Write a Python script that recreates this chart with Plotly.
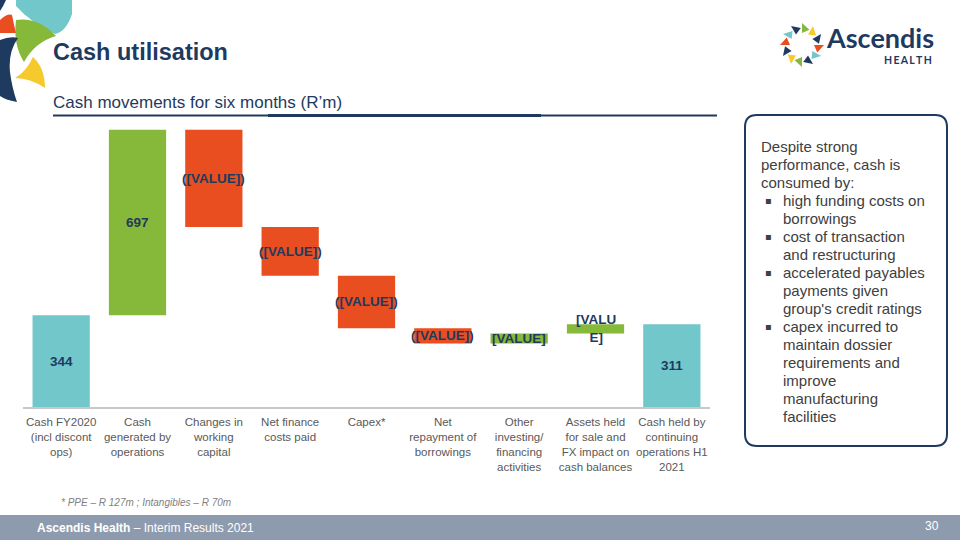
import math
import plotly.graph_objects as go

# ---------------- data ----------------
categories = [
    "Cash FY2020<br>(incl discont<br>ops)",
    "Cash<br>generated by<br>operations",
    "Changes in<br>working<br>capital",
    "Net finance<br>costs paid",
    "Capex*",
    "Net<br>repayment of<br>borrowings",
    "Other<br>investing/<br>financing<br>activities",
    "Assets held<br>for sale and<br>FX impact on<br>cash balances",
    "Cash held by<br>continuing<br>operations H1<br>2021",
]
measures = ["absolute", "relative", "relative", "relative", "relative",
            "relative", "relative", "relative", "total"]
values = [344, 697, -365, -183, -197, -58, 38, 35, 0]
bar_labels = ["344", "697", "([VALUE])", "([VALUE])", "([VALUE])",
              "([VALUE])", "[VALUE]", "[VALU<br>E]", "311"]

# ---------------- geometry ----------------
FW, FH = 960, 540
L, R, T, B = 23, 250, 114, 133
PW, PH = FW - L - R, FH - T - B

NAVY = "#1F3A5F"
TEAL = "#72C7CB"
GREEN = "#86B83A"
RED = "#E84E1F"
YELLOW = "#F6C92C"
GREY_TXT = "#595959"


def px(x):
    return (x - L) / PW


def py(y):
    return (FH - B - y) / PH


def path(points, closed=True):
    s = ""
    for cmd, pts in points:
        if cmd == "Q":
            s += "Q " + " ".join(f"{px(u):.5f},{py(w):.5f}" for u, w in pts) + " "
        else:
            for u, w in pts:
                s += f"{cmd} {px(u):.5f},{py(w):.5f} "
    if closed:
        s += "Z"
    return s


fig = go.Figure()

fig.add_trace(go.Waterfall(
    x=categories,
    y=values,
    measure=measures,
    increasing=dict(marker=dict(color=GREEN)),
    decreasing=dict(marker=dict(color=RED)),
    totals=dict(marker=dict(color=TEAL)),
    connector=dict(visible=False),
    hoverinfo="skip",
    textposition="none",
))

# bar label annotations, centred on each bar
annotations = []
running = 0
for cat, m, v, lab in zip(categories, measures, values, bar_labels):
    if m == "absolute":
        lo, hi = 0, v
        running = v
    elif m == "total":
        lo, hi = 0, running
    else:
        lo, hi = running, running + v
        running += v
    annotations.append(dict(
        x=cat, y=(lo + hi) / 2, xref="x", yref="y", text=f"<b>{lab}</b>",
        showarrow=False, font=dict(family="Liberation Sans, Arial", size=13.5, color=NAVY),
        xanchor="center", yanchor="middle",
    ))

shapes = []

# ---- title & subtitle ----
annotations.append(dict(x=px(51), y=py(52), xref="paper", yref="paper", xanchor="left",
                        yanchor="middle", showarrow=False, text="<b>Cash utilisation</b>",
                        font=dict(family="Liberation Sans, Arial", size=23.5, color=NAVY)))
annotations.append(dict(x=px(51), y=py(102), xref="paper", yref="paper", xanchor="left",
                        yanchor="middle", showarrow=False, text="Cash movements for six months (R’m)",
                        font=dict(family="Liberation Sans, Arial", size=17, color=NAVY)))
shapes.append(dict(type="line", xref="paper", yref="paper", x0=px(53), x1=px(717),
                   y0=py(115.5), y1=py(115.5), line=dict(color=NAVY, width=2)))
shapes.append(dict(type="line", xref="paper", yref="paper", x0=px(268), x1=px(541),
                   y0=py(115.5), y1=py(115.5), line=dict(color=NAVY, width=3)))

# ---- top-left logo fragments ----
logo_parts = [
    (TEAL, [("M", [(16, 0)]), ("L", [(72, 0), (72, 14)]), ("Q", [(66, 32), (55, 34)]), ("Q", [(30, 22), (16, 6)])]),
    (GREEN, [("M", [(16, 20)]), ("Q", [(38, 17), (56, 36)]), ("Q", [(35, 42), (24, 62)]), ("Q", [(13, 45), (16, 20)])]),
    (YELLOW, [("M", [(33, 57)]), ("Q", [(45, 68), (45, 88)]), ("Q", [(30, 78), (15, 78)]), ("Q", [(26, 72), (33, 57)])]),
    (RED, [("M", [(0, 20)]), ("Q", [(8, 13), (12, 15)]), ("Q", [(14, 25), (16, 33)]), ("L", [(0, 33)])]),
    (NAVY, [("M", [(0, 40)]), ("Q", [(10, 36), (18, 38)]), ("Q", [(8, 52), (10, 72)]), ("Q", [(12, 88), (17, 102)]), ("Q", [(5, 100), (0, 96)])]),
    (NAVY, [("M", [(0, 0)]), ("L", [(6, 0)]), ("Q", [(3, 7), (0, 11)])]),
]
for col, pts in logo_parts:
    shapes.append(dict(type="path", xref="paper", yref="paper", path=path(pts),
                       fillcolor=col, line=dict(width=0)))

# ---- top-right logo ----
cx, cy = 802, 45
ring_cols = [GREEN, YELLOW, NAVY, RED, TEAL, NAVY, GREEN, YELLOW, NAVY, RED, TEAL, NAVY]
for i, col in enumerate(ring_cols):
    ang = math.radians(-90 + i * 30)
    ang2 = ang + math.radians(26)
    p1 = (cx + 12 * math.cos(ang), cy + 12 * math.sin(ang))
    p2 = (cx + 22 * math.cos(ang), cy + 22 * math.sin(ang))
    p3 = (cx + 17 * math.cos(ang2), cy + 17 * math.sin(ang2))
    shapes.append(dict(type="path", xref="paper", yref="paper",
                       path=path([("M", [p1]), ("L", [p2, p3])]),
                       fillcolor=col, line=dict(width=0)))
annotations.append(dict(x=px(824), y=py(38), xref="paper", yref="paper", xanchor="left",
                        yanchor="middle", showarrow=False, text="<b>Ascendis</b>",
                        font=dict(family="Lato, Liberation Sans", size=27, color=NAVY)))
annotations.append(dict(x=px(934), y=py(60), xref="paper", yref="paper", xanchor="right",
                        yanchor="middle", showarrow=False,
                        text="<b>H\u2009E\u2009A\u2009L\u2009T\u2009H</b>",
                        font=dict(family="Lato, Liberation Sans", size=10.5, color=NAVY)))

# ---- text box ----
bx0, bx1, by0, by1, rr = 745, 947, 115, 446, 12
box = [("M", [(bx0 + rr, by0)]), ("L", [(bx1 - rr, by0)]), ("Q", [(bx1, by0), (bx1, by0 + rr)]),
       ("L", [(bx1, by1 - rr)]), ("Q", [(bx1, by1), (bx1 - rr, by1)]),
       ("L", [(bx0 + rr, by1)]), ("Q", [(bx0, by1), (bx0, by1 - rr)]),
       ("L", [(bx0, by0 + rr)]), ("Q", [(bx0, by0), (bx0 + rr, by0)])]
shapes.append(dict(type="path", xref="paper", yref="paper", path=path(box),
                   fillcolor="white", line=dict(color=NAVY, width=2)))

box_lines = [
    (0, "Despite strong"),
    (0, "performance, cash is"),
    (0, "consumed by:"),
    (1, "high funding costs on"),
    (2, "borrowings"),
    (1, "cost of transaction"),
    (2, "and restructuring"),
    (1, "accelerated payables"),
    (2, "payments given"),
    (2, "group's credit ratings"),
    (1, "capex incurred to"),
    (2, "maintain dossier"),
    (2, "requirements and"),
    (2, "improve"),
    (2, "manufacturing"),
    (2, "facilities"),
]
for i, (lvl, txt) in enumerate(box_lines):
    yy = 146 + 18 * i
    xx = 759 if lvl == 0 else 781
    annotations.append(dict(x=px(xx), y=py(yy), xref="paper", yref="paper", xanchor="left",
                            yanchor="middle", showarrow=False, text=txt,
                            font=dict(family="Liberation Sans, Arial", size=15, color="#404040")))
    if lvl == 1:
        annotations.append(dict(x=px(763), y=py(yy), xref="paper", yref="paper", xanchor="left",
                                yanchor="middle", showarrow=False, text="▪",
                                font=dict(family="DejaVu Sans", size=10, color="#404040")))

# ---- footnote ----
annotations.append(dict(x=px(59), y=py(502), xref="paper", yref="paper", xanchor="left",
                        yanchor="middle", showarrow=False,
                        text="<i>* PPE – R 127m ; Intangibles – R 70m</i>",
                        font=dict(family="Liberation Sans Narrow, Liberation Sans", size=10, color="#7F7F7F")))

# ---- footer ----
shapes.append(dict(type="rect", xref="paper", yref="paper", x0=px(0), x1=px(960),
                   y0=py(540), y1=py(515), fillcolor="#8E9BAE", line=dict(width=0)))
annotations.append(dict(x=px(35), y=py(527.5), xref="paper", yref="paper", xanchor="left",
                        yanchor="middle", showarrow=False,
                        text="<b>Ascendis Health</b> – Interim Results 2021",
                        font=dict(family="Liberation Sans Narrow, Liberation Sans", size=12, color="white")))
annotations.append(dict(x=px(941), y=py(526), xref="paper", yref="paper", xanchor="right",
                        yanchor="middle", showarrow=False, text="30",
                        font=dict(family="Liberation Sans Narrow, Liberation Sans", size=12, color="white")))

fig.update_layout(
    width=FW, height=FH,
    margin=dict(l=L, r=R, t=T, b=B, autoexpand=False),
    paper_bgcolor="white", plot_bgcolor="white",
    showlegend=False,
    waterfallgap=0.25,
    shapes=shapes,
    annotations=annotations,
    xaxis=dict(showline=True, linecolor="#C8C8C8", linewidth=2, ticks="",
               showgrid=False, zeroline=False, fixedrange=True, ticklabelstandoff=3,
               tickfont=dict(family="Liberation Sans, Arial", size=11.5, color=GREY_TXT)),
    yaxis=dict(visible=False, range=[0, 1100], fixedrange=True),
)

fig.write_html(
    "out.html",
    config={"displayModeBar": False},
    post_script="document.body.style.margin='0';document.body.style.overflow='hidden';",
)
